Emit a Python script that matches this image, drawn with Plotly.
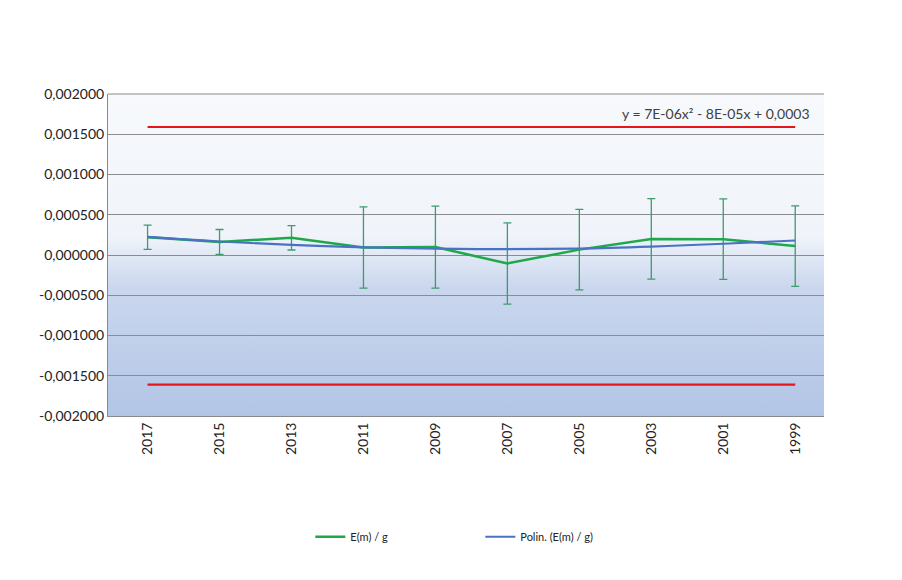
import base64
import plotly.graph_objects as go

# ---- data ----
years = [2017, 2015, 2013, 2011, 2009, 2007, 2005, 2003, 2001, 1999]
em_g = [0.000220, 0.000162, 0.000214, 0.000093, 0.000098, -0.000105, 0.000067, 0.000200, 0.000196, 0.000111]
em_err = [0.000150, 0.000155, 0.000152, 0.000505, 0.000510, 0.000505, 0.000500, 0.000500, 0.000500, 0.000500]
poly_fit = [0.000225, 0.000168, 0.000125, 0.000095, 0.000080, 0.000072, 0.000080, 0.000105, 0.000140, 0.000180]
upper_limit = [0.00159, 0.00159]
lower_limit = [-0.00161, -0.00161]
limit_years = [2017, 1999]

y_ticks = [0.002, 0.0015, 0.001, 0.0005, 0.0, -0.0005, -0.001, -0.0015, -0.002]
y_tick_text = ["0,002000", "0,001500", "0,001000", "0,000500", "0,000000",
               "-0,000500", "-0,001000", "-0,001500", "-0,002000"]
x_ticks = [2017, 2015, 2013, 2011, 2009, 2007, 2005, 2003, 2001, 1999]
x_tick_text = [str(v) for v in x_ticks]
equation = "y = 7E-06x² - 8E-05x + 0,0003"

FONT = "Lato, 'Open Sans', sans-serif"

fig = go.Figure()

fig.add_trace(go.Scatter(
    x=limit_years, y=upper_limit, mode="lines",
    line=dict(color="#e8141b", width=2.2), showlegend=False, hoverinfo="skip"))
fig.add_trace(go.Scatter(
    x=limit_years, y=lower_limit, mode="lines",
    line=dict(color="#e8141b", width=2.2), showlegend=False, hoverinfo="skip"))

fig.add_trace(go.Scatter(
    x=years, y=em_g, mode="lines", name="E(m) / g",
    line=dict(color="#1fa84a", width=2.5),
    error_y=dict(type="data", array=em_err, visible=True,
                 color="#3f9a6e", thickness=1.3, width=4)))

fig.add_trace(go.Scatter(
    x=years, y=poly_fit, mode="lines", name="Polin. (E(m) / g)",
    line=dict(color="#4a72c4", width=2.2, shape="spline")))

fig.add_annotation(x=2001.2, y=0.00176, xref="x", yref="y", text=equation,
                   showarrow=False, font=dict(family=FONT, size=14, color="#404040"))

svg = ('<svg xmlns="http://www.w3.org/2000/svg" viewBox="0 0 100 100" '
       'preserveAspectRatio="none" width="100" height="100">'
       '<defs><linearGradient id="g" x1="0" y1="0" x2="0" y2="1">'
       '<stop offset="0" stop-color="#f7f9fc"/>'
       '<stop offset="0.44" stop-color="#f0f4fa"/>'
       '<stop offset="0.60" stop-color="#cad7ee"/>'
       '<stop offset="1" stop-color="#b3c5e6"/>'
       '</linearGradient></defs>'
       '<rect x="0" y="0" width="100" height="100" fill="url(#g)"/></svg>')
src = "data:image/svg+xml;base64," + base64.b64encode(svg.encode()).decode()

fig.update_layout(
    width=902, height=580,
    margin=dict(l=108, r=78, t=94, b=164),
    paper_bgcolor="white", plot_bgcolor="rgba(0,0,0,0)",
    font=dict(family=FONT, color="#222222"),
    images=[dict(source=src, xref="paper", yref="paper", x=0, y=1,
                 sizex=1, sizey=1, sizing="stretch", layer="below")],
    xaxis=dict(range=[2018.1, 1998.2], tickmode="array", tickvals=x_ticks,
               ticktext=x_tick_text, tickangle=-90, showgrid=False,
               zeroline=False, showline=True, linecolor="#8a8a8a", linewidth=1,
               ticks="", tickfont=dict(family=FONT, size=14, color="#222222")),
    yaxis=dict(range=[-0.002, 0.002], tickmode="array", tickvals=y_ticks,
               ticktext=y_tick_text, showgrid=True, gridcolor="#8c8c8c",
               gridwidth=1, zeroline=False, showline=True, linecolor="#8a8a8a",
               linewidth=1, ticks="", mirror=False,
               tickfont=dict(family=FONT, size=14, color="#222222")),
    legend=dict(orientation="h", x=0.52, xanchor="center", y=-0.33, yanchor="top",
                font=dict(family=FONT, size=11, color="#222222"),
                entrywidth=125, entrywidthmode="pixels",
                bgcolor="rgba(0,0,0,0)"),
    showlegend=True,
)
fig.add_shape(type="line", xref="paper", yref="paper", x0=0, x1=1, y0=1, y1=1,
              line=dict(color="#8a8a8a", width=1))

fig.write_html("out.html")
